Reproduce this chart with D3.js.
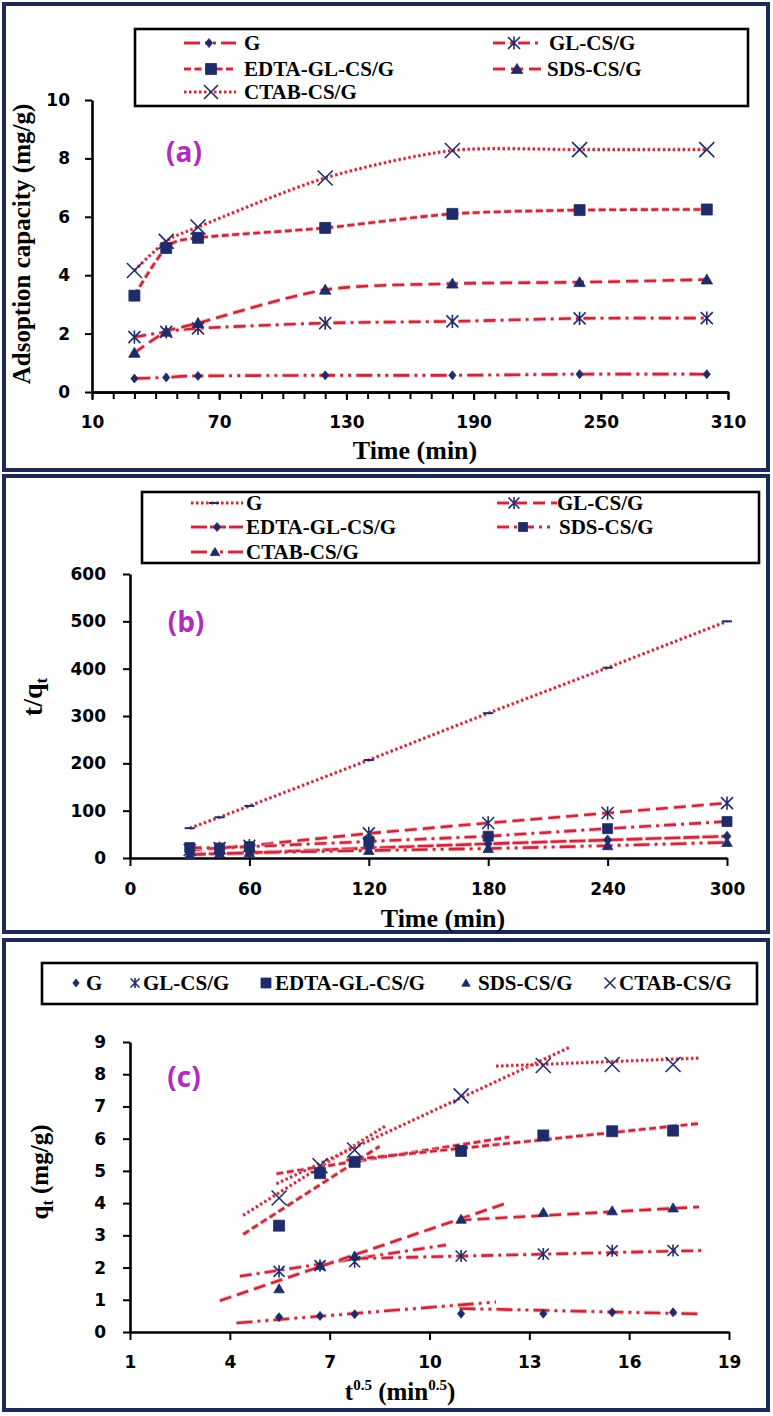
<!DOCTYPE html>
<html><head><meta charset="utf-8">
<script src="https://cdn.jsdelivr.net/npm/d3@7"></script>
<style>body{margin:0;background:#fff} svg{display:block}</style>
</head><body>
<svg id="chart" width="773" height="1416"></svg>
<script>
// ---------------- data ----------------
const seriesNames = ["G", "GL-CS/G", "EDTA-GL-CS/G", "SDS-CS/G", "CTAB-CS/G"];
const timeMin = [30, 45, 60, 120, 180, 240, 300];
const sqrtT = [5.48, 6.71, 7.75, 10.95, 13.42, 15.49, 17.32];
// adsorption capacity qt (mg/g)
const qG    = [0.46, 0.50, 0.55, 0.57, 0.57, 0.61, 0.61];
const qGL   = [1.88, 2.06, 2.18, 2.36, 2.42, 2.52, 2.53];
const qEDTA = [3.30, 4.93, 5.28, 5.62, 6.10, 6.23, 6.25];
const qSDS  = [1.34, 2.06, 2.36, 3.50, 3.71, 3.76, 3.85];
const qCTAB = [4.16, 5.16, 5.65, 7.33, 8.27, 8.30, 8.30];
// t/qt
const tqG    = [63, 86, 110, 207, 306, 402, 500];
const tqGL   = [17, 21, 26, 52, 74, 95, 116];
const tqEDTA = [9, 9, 11, 21, 30, 38, 46];
const tqSDS  = [22, 21, 24, 35, 46, 62, 77];
const tqCTAB = [7, 9, 11, 16, 20, 26, 33];
// intraparticle diffusion fit segments [x1, y1, x2, y2]
const segG    = [[4.2, 0.28, 12.0, 0.93], [10.9, 0.73, 18.1, 0.56]];
const segGL   = [[4.3, 1.73, 10.5, 2.70], [7.8, 2.28, 18.2, 2.53]];
const segEDTA = [[4.4, 3.03, 8.5, 5.76], [5.4, 4.91, 12.4, 6.05], [7.5, 5.33, 18.1, 6.47]];
const segSDS  = [[3.7, 0.97, 12.4, 4.03], [10.9, 3.47, 18.1, 3.88]];
const segCTAB = [[4.4, 3.62, 8.7, 6.41], [5.4, 4.60, 14.2, 8.83], [12.0, 8.25, 18.1, 8.50]];
// ticks
const ticksAx = [10, 70, 130, 190, 250, 310];
const ticksAy = [0, 2, 4, 6, 8, 10];
const ticksBx = [0, 60, 120, 180, 240, 300];
const ticksBy = [0, 100, 200, 300, 400, 500, 600];
const ticksCx = [1, 4, 7, 10, 13, 16, 19];
const ticksCy = [0, 1, 2, 3, 4, 5, 6, 7, 8, 9];

// ---------------- styles ----------------
const RED = "#c82a3a", HALO = "#f3a8b6", NAVY = "#1f2c6a", BORDER = "#1c2a58", MAG = "#b02cc0";
const SERIF = "'Liberation Serif','Times New Roman',serif";
const SANS = "'DejaVu Sans',Arial,sans-serif";
const dashA = {G: "16,5,3,5,3,5", GL: "12,5,3,5", EDTA: "7,3.5", SDS: "12,6", CTAB: "2.5,2.5"};
const dashB = {G: "2.5,2.5", GL: "12,6", EDTA: "16,3", SDS: "12,5,3,5", CTAB: "16,5,3,5,3,5"};

const svg = d3.select("#chart");

function markerPath(type, s) {
  switch (type) {
    case "diamond": return `M0,${-s}L${s * 0.8},0L0,${s}L${-s * 0.8},0Z`;
    case "square": return `M${-s},${-s}H${s}V${s}H${-s}Z`;
    case "triangle": return `M0,${-s}L${s * 1.05},${s * 0.8}L${-s * 1.05},${s * 0.8}Z`;
    case "x": return `M${-s},${-s}L${s},${s}M${s},${-s}L${-s},${s}`;
    case "asterisk": return `M${-s},${-s}L${s},${s}M${s},${-s}L${-s},${s}M0,${-s * 1.1}V${s * 1.1}`;
    case "dash": return `M${-s},0H${s}`;
  }
}
function drawMarker(g, type, x, y, s) {
  const filled = ["diamond", "square", "triangle"].includes(type);
  g.append("path").attr("transform", `translate(${x},${y})`).attr("d", markerPath(type, s))
    .attr("fill", filled ? NAVY : "none").attr("stroke", NAVY)
    .attr("stroke-width", filled ? 0.8 : (type === "dash" ? 2 : 1.6));
}
function drawLine(g, pts, dash, curve) {
  const line = d3.line().x(d => d[0]).y(d => d[1]).curve(curve || d3.curveLinear);
  g.append("path").attr("d", line(pts)).attr("fill", "none").attr("stroke", HALO)
    .attr("stroke-width", 4.6).attr("stroke-dasharray", dash).attr("opacity", 0.7);
  g.append("path").attr("d", line(pts)).attr("fill", "none").attr("stroke", RED)
    .attr("stroke-width", 2.6).attr("stroke-dasharray", dash);
}
function styleAxis(ax) {
  ax.select(".domain").attr("stroke", "#000").attr("stroke-width", 2.6);
  ax.selectAll(".tick line").attr("stroke", "#000").attr("stroke-width", 2);
  ax.selectAll(".tick text").attr("font-family", SANS).attr("font-weight", "bold")
    .attr("font-size", 17).attr("fill", "#000");
}
function frame(x, y, w, h) {
  svg.append("rect").attr("x", x).attr("y", y).attr("width", w).attr("height", h)
    .attr("fill", "none").attr("stroke", BORDER).attr("stroke-width", 4);
}
function legendBox(x, y, w, h) {
  svg.append("rect").attr("x", x).attr("y", y).attr("width", w).attr("height", h)
    .attr("fill", "#fff").attr("stroke", "#000").attr("stroke-width", 2.6);
}
function legText(x, y, t) {
  svg.append("text").attr("x", x).attr("y", y + 7).text(t)
    .attr("font-family", SERIF).attr("font-weight", "bold").attr("font-size", 21).attr("fill", "#000");
}
function panelLabel(x, y, t) {
  svg.append("text").attr("x", x).attr("y", y + 10).attr("text-anchor", "middle").text(t)
    .attr("font-family", "'Open Sans',sans-serif").attr("font-weight", "bold")
    .attr("font-size", 28).attr("fill", MAG);
}

// ================= Panel (a) =================
frame(4, 4, 764, 466);
{
  const x = d3.scaleLinear().domain([10, 310]).range([92, 728]);
  const y = d3.scaleLinear().domain([0, 10]).range([392, 100]);
  const g = svg.append("g");
  const ay = g.append("g").attr("transform", `translate(${x.range()[0]},0)`)
    .call(d3.axisLeft(y).tickValues(ticksAy).tickSize(7).tickSizeOuter(0).tickPadding(15));
  styleAxis(ay);
  const axm = g.append("g").attr("transform", `translate(0,${y(0)})`)
    .call(d3.axisBottom(x).tickValues(d3.range(10, 311, 10)).tickSize(7).tickSizeOuter(0).tickFormat(""));
  styleAxis(axm);
  const ax = g.append("g").attr("transform", `translate(0,${y(0)})`)
    .call(d3.axisBottom(x).tickValues(ticksAx).tickSize(8).tickSizeOuter(0).tickPadding(16));
  styleAxis(ax);
  const series = [
    {v: qG, dash: dashA.G, m: "diamond", s: 4.5},
    {v: qGL, dash: dashA.GL, m: "asterisk", s: 6},
    {v: qSDS, dash: dashA.SDS, m: "triangle", s: 5.5},
    {v: qEDTA, dash: dashA.EDTA, m: "square", s: 5.5},
    {v: qCTAB, dash: dashA.CTAB, m: "x", s: 7.5}
  ];
  series.forEach(sr => {
    const pts = timeMin.map((t, i) => [x(t), y(sr.v[i])]);
    drawLine(g, pts, sr.dash, d3.curveCardinal.tension(0.2));
  });
  series.forEach(sr => timeMin.forEach((t, i) => drawMarker(g, sr.m, x(t), y(sr.v[i]), sr.s)));
  svg.append("text").attr("transform", "translate(30,244) rotate(-90)").attr("text-anchor", "middle")
    .text("Adsoption capacity (mg/g)").attr("font-family", SERIF).attr("font-weight", "bold")
    .attr("font-size", 25);
  svg.append("text").attr("x", 415).attr("y", 459).attr("text-anchor", "middle").text("Time (min)")
    .attr("font-family", SERIF).attr("font-weight", "bold").attr("font-size", 26);
  panelLabel(184, 152, "(a)");
  legendBox(135, 29, 613, 77);
  const leg = [
    {n: 0, x1: 184, x2: 236, mx: 209, tx: 244, y: 43, dash: dashA.G, m: "diamond", s: 4.5},
    {n: 1, x1: 493, x2: 538, mx: 514, tx: 549, y: 43, dash: dashA.GL, m: "asterisk", s: 6},
    {n: 2, x1: 184, x2: 236, mx: 211, tx: 244, y: 69, dash: dashA.EDTA, m: "square", s: 5.5},
    {n: 3, x1: 493, x2: 545, mx: 517, tx: 547, y: 69, dash: dashA.SDS, m: "triangle", s: 5.5},
    {n: 4, x1: 184, x2: 236, mx: 211, tx: 244, y: 92, dash: dashA.CTAB, m: "x", s: 7}
  ];
  leg.forEach(l => {
    drawLine(svg, [[l.x1, l.y], [l.x2, l.y]], l.dash);
    drawMarker(svg, l.m, l.mx, l.y, l.s);
    legText(l.tx, l.y, seriesNames[l.n]);
  });
}

// ================= Panel (b) =================
frame(4, 476, 764, 456);
{
  const x = d3.scaleLinear().domain([0, 300]).range([130, 727]);
  const y = d3.scaleLinear().domain([0, 600]).range([858, 574]);
  const g = svg.append("g");
  const ay = g.append("g").attr("transform", `translate(${x.range()[0]},0)`)
    .call(d3.axisLeft(y).tickValues(ticksBy).tickSize(7).tickSizeOuter(0).tickPadding(17));
  styleAxis(ay);
  const ax = g.append("g").attr("transform", `translate(0,${y(0)})`)
    .call(d3.axisBottom(x).tickValues(ticksBx).tickSize(8).tickSizeOuter(0).tickPadding(17));
  styleAxis(ax);
  const series = [
    {v: tqG, dash: dashB.G, m: "dash", s: 5},
    {v: tqGL, dash: dashB.GL, m: "asterisk", s: 6},
    {v: tqSDS, dash: dashB.SDS, m: "square", s: 5},
    {v: tqEDTA, dash: dashB.EDTA, m: "diamond", s: 5},
    {v: tqCTAB, dash: dashB.CTAB, m: "triangle", s: 5}
  ];
  series.forEach(sr => drawLine(g, timeMin.map((t, i) => [x(t), y(sr.v[i])]), sr.dash));
  series.forEach(sr => timeMin.forEach((t, i) => drawMarker(g, sr.m, x(t), y(sr.v[i]), sr.s)));
  const yt = svg.append("text").attr("transform", "translate(42,697) rotate(-90)").attr("text-anchor", "middle")
    .attr("font-family", SERIF).attr("font-weight", "bold").attr("font-size", 28);
  yt.append("tspan").text("t/q");
  yt.append("tspan").text("t").attr("font-size", 17).attr("dy", 5);
  svg.append("text").attr("x", 443).attr("y", 927).attr("text-anchor", "middle").text("Time (min)")
    .attr("font-family", SERIF).attr("font-weight", "bold").attr("font-size", 26);
  panelLabel(186, 622, "(b)");
  legendBox(142, 492, 617, 71);
  const leg = [
    {n: 0, x1: 191, x2: 243, mx: 214, tx: 246, y: 503, dash: dashB.G, m: "dash", s: 5},
    {n: 1, x1: 497, x2: 557, mx: 514, tx: 557, y: 503, dash: dashB.GL, m: "asterisk", s: 5.5},
    {n: 2, x1: 191, x2: 243, mx: 217, tx: 246, y: 527, dash: dashB.EDTA, m: "diamond", s: 4.5},
    {n: 3, x1: 497, x2: 550, mx: 523, tx: 559, y: 527, dash: dashB.SDS, m: "square", s: 4.5},
    {n: 4, x1: 191, x2: 243, mx: 215, tx: 246, y: 552, dash: dashB.CTAB, m: "triangle", s: 4.5}
  ];
  leg.forEach(l => {
    drawLine(svg, [[l.x1, l.y], [l.x2, l.y]], l.dash);
    drawMarker(svg, l.m, l.mx, l.y, l.s);
    legText(l.tx, l.y, seriesNames[l.n]);
  });
}

// ================= Panel (c) =================
frame(4, 940, 764, 470);
{
  const x = d3.scaleLinear().domain([1, 19]).range([130, 729]);
  const y = d3.scaleLinear().domain([0, 9]).range([1332, 1042]);
  const g = svg.append("g");
  const ay = g.append("g").attr("transform", `translate(${x.range()[0]},0)`)
    .call(d3.axisLeft(y).tickValues(ticksCy).tickSize(7).tickSizeOuter(0).tickPadding(17));
  styleAxis(ay);
  const ax = g.append("g").attr("transform", `translate(0,${y(0)})`)
    .call(d3.axisBottom(x).tickValues(ticksCx).tickSize(8).tickSizeOuter(0).tickPadding(16));
  styleAxis(ax);
  const segs = [
    {v: segG, dash: dashA.G}, {v: segGL, dash: dashA.GL}, {v: segSDS, dash: dashA.SDS},
    {v: segEDTA, dash: dashA.EDTA}, {v: segCTAB, dash: dashA.CTAB}
  ];
  segs.forEach(sg => sg.v.forEach(d => drawLine(g, [[x(d[0]), y(d[1])], [x(d[2]), y(d[3])]], sg.dash)));
  const pts = [
    {v: qG, m: "diamond", s: 4.5}, {v: qGL, m: "asterisk", s: 5.5}, {v: qSDS, m: "triangle", s: 5},
    {v: qEDTA, m: "square", s: 5.5}, {v: qCTAB, m: "x", s: 7.5}
  ];
  pts.forEach(sr => sqrtT.forEach((t, i) => drawMarker(g, sr.m, x(t), y(sr.v[i]), sr.s)));
  const yt = svg.append("text").attr("transform", "translate(48,1172) rotate(-90)").attr("text-anchor", "middle")
    .attr("font-family", SERIF).attr("font-weight", "bold").attr("font-size", 25);
  yt.append("tspan").text("q");
  yt.append("tspan").text("t").attr("font-size", 16).attr("dy", 5);
  yt.append("tspan").text(" (mg/g)").attr("dy", -5);
  const xt = svg.append("text").attr("x", 400).attr("y", 1400).attr("text-anchor", "middle")
    .attr("font-family", SERIF).attr("font-weight", "bold").attr("font-size", 25);
  xt.append("tspan").text("t");
  xt.append("tspan").text("0.5").attr("font-size", 15).attr("dy", -10);
  xt.append("tspan").text(" (min").attr("dy", 10);
  xt.append("tspan").text("0.5").attr("font-size", 15).attr("dy", -10);
  xt.append("tspan").text(")").attr("dy", 10);
  panelLabel(184, 1077, "(c)");
  legendBox(42, 963, 715, 41);
  const leg = [
    {n: 0, mx: 76, tx: 86, m: "diamond", s: 4},
    {n: 1, mx: 135, tx: 143, m: "asterisk", s: 4.5},
    {n: 2, mx: 266, tx: 275, m: "square", s: 5},
    {n: 3, mx: 466, tx: 478, m: "triangle", s: 4},
    {n: 4, mx: 610, tx: 619, m: "x", s: 5.5}
  ];
  leg.forEach(l => {
    drawMarker(svg, l.m, l.mx, 983, l.s);
    legText(l.tx, 983, seriesNames[l.n]);
  });
}
</script>
</body></html>
